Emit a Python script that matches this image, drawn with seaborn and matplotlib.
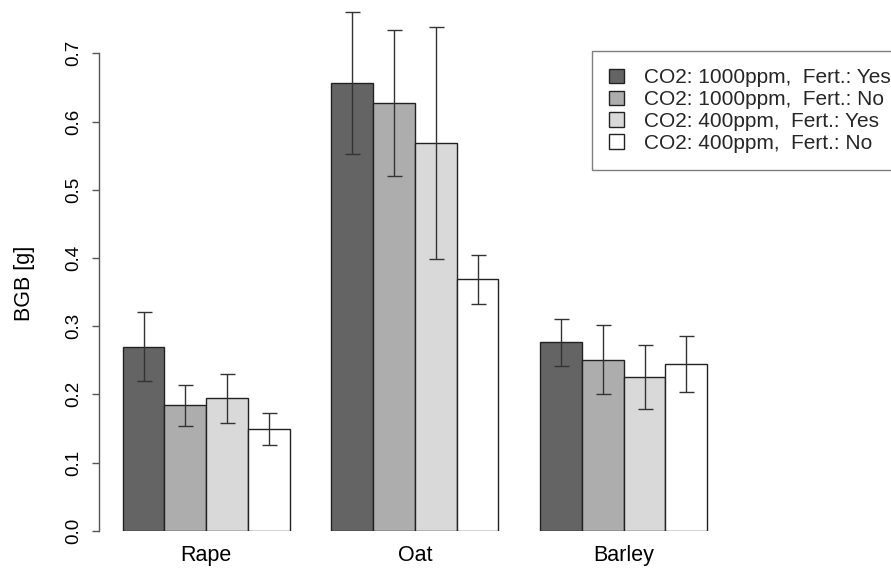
import matplotlib
matplotlib.use("Agg")
import matplotlib.pyplot as plt
import seaborn as sns
import pandas as pd
import numpy as np

crops = ["Rape", "Oat", "Barley"]
treatments = ["CO2: 1000ppm,  Fert.: Yes", "CO2: 1000ppm,  Fert.: No",
              "CO2: 400ppm,  Fert.: Yes", "CO2: 400ppm,  Fert.: No"]
rape_mean = [0.270, 0.184, 0.194, 0.149]
oat_mean = [0.656, 0.627, 0.568, 0.369]
barley_mean = [0.276, 0.251, 0.226, 0.244]
rape_err = [0.050, 0.030, 0.036, 0.023]
oat_err = [0.104, 0.107, 0.170, 0.036]
barley_err = [0.034, 0.051, 0.047, 0.041]
colors = ["#646464", "#adadad", "#d9d9d9", "#ffffff"]
yticks = [0.0, 0.1, 0.2, 0.3, 0.4, 0.5, 0.6, 0.7]

means = {"Rape": rape_mean, "Oat": oat_mean, "Barley": barley_mean}
errs = {"Rape": rape_err, "Oat": oat_err, "Barley": barley_err}
rows = []
for c in crops:
    for t, m, e in zip(treatments, means[c], errs[c]):
        rows.append({"crop": c, "treatment": t, "BGB": m, "err": e})
df = pd.DataFrame(rows)

sns.set_theme(style="white")
plt.rcParams["font.family"] = ["Liberation Sans", "DejaVu Sans"]

W, H = 891, 574
ax_left, ax_bottom_px, ax_w, ax_top_px = 99.3, 530.7, 649.6, 5.6
ax_h = ax_bottom_px - ax_top_px
fig = plt.figure(figsize=(W / 100, H / 100), dpi=100)
ax = fig.add_axes([ax_left / W, (H - ax_bottom_px) / H, ax_w / W, ax_h / H])

sns.barplot(data=df, x="crop", y="BGB", hue="treatment", order=crops,
            hue_order=treatments, palette=colors, errorbar=None,
            edgecolor="#222222", linewidth=1.0, saturation=1, ax=ax)

for cont, t in zip(ax.containers, treatments):
    sub = df[df["treatment"] == t].set_index("crop").loc[crops]
    xs = [b.get_x() + b.get_width() / 2 for b in cont]
    eb = ax.errorbar(xs, sub["BGB"].values, yerr=sub["err"].values, fmt="none",
                     ecolor="#333333", elinewidth=1.0, capsize=5.4, capthick=1.0)
    for art in eb.get_children():
        art.set_clip_on(False)

ax.set_xlim(-0.512, 2.6)
ax.set_ylim(0, 0.77)
ax.set_yticks(yticks)
ax.set_yticklabels([f"{v:.1f}" for v in yticks])
for s in ["top", "right", "bottom"]:
    ax.spines[s].set_visible(False)
ax.spines["left"].set_bounds(0, 0.7)
ax.spines["left"].set_color("#555555")
ax.spines["left"].set_linewidth(1.0)
ax.tick_params(axis="y", left=True, length=5, width=1.0, color="#555555",
               pad=7, labelsize=13.5, labelrotation=90, labelcolor="black")
for lab in ax.get_yticklabels():
    lab.set_va("center")
ax.tick_params(axis="x", bottom=False, length=0, pad=10, labelsize=15.5,
               labelcolor="black")
ax.set_xlabel("")
ax.set_ylabel("BGB [g]", fontsize=15.5, color="black")
ax.yaxis.set_label_coords((35 - ax_left) / ax_w, (ax_bottom_px - 283) / ax_h)

handles, labels = ax.get_legend_handles_labels()
leg = ax.legend(handles, labels, loc="upper left",
                bbox_to_anchor=(591.7 / W, 1 - 50.7 / H),
                bbox_transform=fig.transFigure, borderaxespad=0,
                fontsize=15.0, frameon=True, fancybox=False, framealpha=1,
                edgecolor="#7f7f7f", handlelength=0.7, handleheight=0.7,
                handletextpad=0.95, labelspacing=0.13, borderpad=0.85)
leg.get_frame().set_linewidth(1.0)

fig.savefig("out.png", dpi=100)
